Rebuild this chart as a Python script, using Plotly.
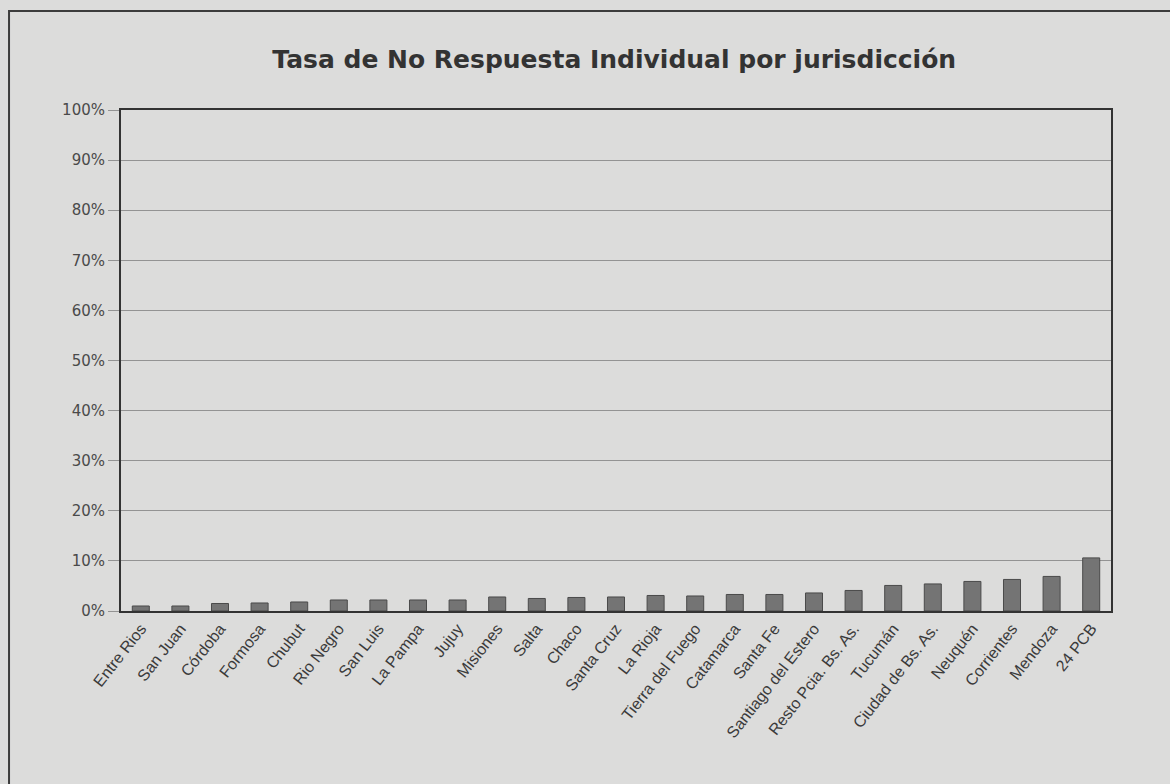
import plotly.graph_objects as go

categories = ["Entre Rios", "San Juan", "Córdoba", "Formosa", "Chubut", "Rio Negro",
              "San Luis", "La Pampa", "Jujuy", "Misiones", "Salta", "Chaco", "Santa Cruz",
              "La Rioja", "Tierra del Fuego", "Catamarca", "Santa Fe", "Santiago del Estero",
              "Resto Pcia. Bs. As.", "Tucumán", "Ciudad de Bs. As.", "Neuquén", "Corrientes",
              "Mendoza", "24 PCB"]
values = [1.0, 1.0, 1.5, 1.6, 1.8, 2.2, 2.2, 2.2, 2.2, 2.8, 2.5, 2.7, 2.8,
          3.1, 3.0, 3.3, 3.3, 3.6, 4.1, 5.1, 5.4, 5.9, 6.3, 6.9, 10.6]
y_ticks = [0, 10, 20, 30, 40, 50, 60, 70, 80, 90, 100]
y_tick_labels = [f"{v}%" for v in y_ticks]

BG = "#dcdcdb"

fig = go.Figure()
fig.add_trace(go.Bar(
    x=categories, y=values,
    marker=dict(color="#747474", line=dict(color="#4a4a4a", width=1)),
    hoverinfo="x+y",
))

fig.update_layout(
    width=1170, height=784,
    paper_bgcolor=BG, plot_bgcolor=BG,
    margin=dict(l=121, r=59, t=110, b=173),
    bargap=0.57,
    showlegend=False,
    font=dict(family="Liberation Sans, Arial, sans-serif", color="#3a3a3a"),
    title=dict(
        text="<b>Tasa de No Respuesta Individual por jurisdicción</b>",
        x=0.525, xanchor="center", y=0.925, yanchor="middle",
        font=dict(family="DejaVu Sans, sans-serif", size=25, color="#333333"),
    ),
    xaxis=dict(
        tickangle=-52, tickfont=dict(size=16, color="#3a3a3a"),
        showline=True, linecolor="#333333", linewidth=2, mirror=True,
        ticks="", showgrid=False,
    ),
    yaxis=dict(
        range=[0, 100], tickvals=y_ticks, ticktext=y_tick_labels,
        tickfont=dict(family="DejaVu Sans, sans-serif", size=15, color="#4a4a4a"),
        showgrid=True, gridcolor="#939393", gridwidth=1,
        ticks="outside", ticklen=11, tickcolor="#939393",
        showline=True, linecolor="#333333", linewidth=2, mirror=True,
        zeroline=False,
    ),
    shapes=[dict(
        type="rect", xref="paper", yref="paper",
        x0=-0.1131, x1=1.07, y0=-0.36, y1=1.1976,
        line=dict(color="#3c3c3c", width=2), fillcolor="rgba(0,0,0,0)", layer="below",
    )],
)

fig.write_html(
    "out.html",
    config={"displayModeBar": False},
    post_script="document.body.style.margin='0';document.body.style.background='#dcdcdb';",
)
